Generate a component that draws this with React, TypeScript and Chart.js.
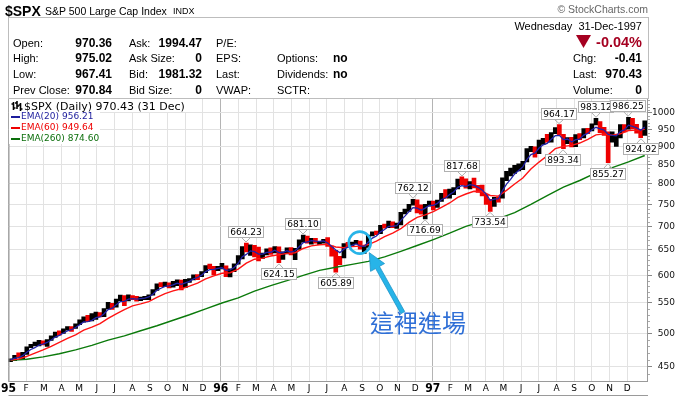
import React, { useEffect, useRef } from "react";
import { Chart, registerables } from "chart.js";
Chart.register(...registerables);

// ---------- data ----------
const monthLabels = ["95","F","M","A","M","J","J","A","S","O","N","D","96","F","M","A","M","J","J","A","S","O","N","D","97","F","M","A","M","J","J","A","S","O","N","D"];
const yTickValues = [450, 500, 550, 600, 650, 700, 750, 800, 850, 900, 950, 1000];

// weekly closes, Jan 1995 - Dec 1997
const closes = [
  460.68, 465.97, 464.78, 470.39, 478.65, 481.46, 481.97, 488.11, 485.42, 489.57,
  495.52, 500.97, 500.71, 506.42, 509.23, 508.49, 514.71, 520.12, 525.55, 519.19,
  523.65, 532.51, 527.94, 539.83, 549.71, 544.75, 556.37, 560.89, 553.54, 562.93,
  558.94, 555.11, 559.21, 560.10, 563.84, 572.68, 583.35, 581.73, 584.41, 582.49,
  584.50, 590.65, 579.70, 590.57, 592.72, 600.07, 599.97, 606.98, 617.48, 616.34,
  611.95, 615.93,
  616.71, 601.81, 611.83, 621.62, 635.84, 656.37, 647.98, 659.08, 644.37, 633.50,
  641.43, 650.62, 645.50, 655.86, 636.71, 645.07, 653.46, 641.63, 652.09, 668.91,
  678.51, 669.12, 673.31, 665.85, 666.84, 670.63, 657.44, 646.19, 638.73, 635.90,
  662.49, 662.10, 665.21, 667.03, 651.99, 655.68, 680.54, 687.03, 686.19, 701.46,
  700.66, 710.82, 700.92, 703.77, 730.82, 737.62, 748.73, 757.02, 739.60, 728.64,
  748.87, 756.79,
  748.03, 759.50, 776.17, 770.52, 786.16, 789.56, 808.48, 801.77, 790.82, 804.97,
  793.17, 784.10, 773.88, 757.90, 737.65, 766.34, 765.37, 812.97, 824.78, 829.75,
  847.03, 848.28, 858.01, 893.27, 898.70, 887.30, 916.92, 918.75, 915.30, 938.79,
  947.14, 933.54, 900.81, 923.54, 899.47, 929.05, 923.91, 950.51, 945.22, 965.03,
  966.98, 944.16, 941.64, 914.62, 927.51, 928.35, 963.09, 955.40, 983.79, 953.39,
  946.78, 936.46, 970.43,
];
const highs = [
  461.3, 466.4, 470.4, 470.9, 479.0, 482.9, 486.3, 488.9, 488.3, 490.4,
  496.2, 501.9, 504.0, 507.0, 510.5, 510.6, 515.0, 521.5, 526.5, 529.0,
  531.8, 534.6, 533.5, 540.5, 551.0, 549.5, 556.8, 563.8, 563.0, 564.5,
  563.0, 561.5, 560.5, 561.5, 564.5, 573.5, 584.0, 586.3, 587.5, 586.0,
  589.0, 591.5, 590.9, 592.3, 594.0, 601.0, 601.5, 607.1, 618.5, 621.7,
  617.0, 617.0,
  623.0, 618.0, 612.5, 622.0, 638.5, 657.0, 664.23, 660.5, 659.5, 656.0,
  643.5, 652.0, 654.0, 657.0, 656.5, 646.0, 654.0, 654.5, 653.0, 671.0,
  681.10, 679.0, 674.0, 674.0, 667.5, 672.0, 675.9, 658.0, 649.0, 637.0,
  663.0, 665.5, 666.0, 670.0, 668.0, 657.0, 681.0, 688.0, 689.5, 702.0,
  705.0, 711.5, 710.0, 707.0, 731.5, 739.0, 750.0, 762.12, 761.0, 749.0,
  750.0, 758.0,
  758.0, 760.0, 776.5, 786.0, 787.0, 790.5, 812.0, 817.68, 812.5, 806.0,
  814.9, 796.0, 797.0, 774.0, 762.0, 767.0, 768.0, 815.0, 832.0, 841.0,
  848.0, 852.0, 859.0, 894.0, 900.0, 899.0, 918.0, 923.0, 935.0, 940.0,
  955.0, 964.17, 935.0, 925.0, 926.0, 934.0, 937.0, 952.0, 952.5, 966.0,
  983.12, 973.0, 956.0, 942.0, 942.0, 932.0, 964.0, 964.0, 986.25, 983.0,
  965.0, 950.0, 975.02,
];
const lows = [
  457.2, 458.9, 463.5, 461.1, 468.0, 477.8, 480.5, 480.5, 482.1, 479.7,
  488.9, 493.4, 497.0, 500.0, 505.0, 502.9, 507.8, 513.8, 518.0, 518.5,
  520.0, 522.5, 526.5, 526.9, 539.8, 539.0, 543.0, 554.0, 545.5, 553.5,
  556.0, 553.0, 553.9, 556.0, 555.6, 563.8, 572.0, 579.0, 579.0, 576.5,
  578.0, 581.0, 573.0, 577.0, 587.0, 591.5, 592.0, 597.5, 605.0, 612.5,
  600.8, 609.0,
  612.0, 597.3, 597.0, 607.0, 621.5, 632.0, 646.0, 639.0, 636.0, 627.6,
  633.0, 640.0, 641.0, 644.0, 624.15, 631.0, 642.0, 640.0, 630.5, 651.0,
  666.0, 664.0, 662.0, 664.0, 661.0, 664.0, 657.0, 637.5, 605.89, 620.5,
  634.0, 656.5, 658.0, 663.0, 651.5, 643.0, 655.0, 679.0, 682.0, 684.0,
  696.0, 697.0, 697.0, 695.5, 703.0, 728.0, 733.5, 748.0, 730.0, 727.0,
  716.69, 745.5,
  737.0, 743.0, 757.0, 765.0, 765.0, 773.0, 787.5, 798.0, 789.0, 787.5,
  790.0, 779.0, 770.0, 750.0, 733.54, 745.0, 755.0, 765.0, 808.0, 820.0,
  827.0, 833.0, 836.5, 857.0, 885.0, 870.0, 880.0, 906.0, 912.0, 912.0,
  937.0, 932.0, 893.34, 908.0, 898.5, 899.0, 919.0, 924.0, 937.0, 945.0,
  963.0, 940.0, 932.0, 855.27, 912.0, 900.0, 924.0, 942.0, 950.0, 951.0,
  938.0, 924.92, 932.0,
];
// EMA(20), one value per week
const ema20 = [
  460.0, 462.4, 463.3, 466.1, 471.1, 475.2, 477.9, 481.9, 483.3, 485.8,
  489.6, 494.1, 496.7, 500.5, 503.9, 505.7, 509.2, 513.5, 518.3, 518.7,
  520.7, 525.3, 526.3, 531.6, 538.7, 541.1, 547.1, 552.5, 552.9, 556.8,
  557.6, 556.6, 557.6, 558.6, 560.6, 565.4, 572.5, 576.1, 579.4, 580.6,
  582.1, 585.5, 583.2, 586.1, 588.7, 593.2, 595.9, 600.3, 607.1, 610.7,
  611.2, 613.1, 614.5, 609.5, 610.4, 614.8, 623.1, 636.2, 640.8, 648.0,
  646.5, 641.4, 641.4, 645.0, 645.2, 649.4, 644.4, 644.7, 648.2, 645.6,
  648.2, 656.4, 665.1, 666.7, 669.3, 668.0, 667.5, 668.7, 664.2, 657.1,
  649.9, 644.4, 651.5, 655.7, 659.4, 662.4, 658.3, 657.3, 666.4, 674.5,
  679.1, 687.9, 692.9, 700.0, 700.4, 701.7, 713.2, 722.8, 733.0, 742.5,
  741.4, 736.4, 741.3, 747.4, 747.6, 752.3, 761.7, 765.2, 773.5, 779.8,
  791.1, 795.3, 793.5, 798.0, 796.1, 791.4, 784.5, 774.0, 759.7, 762.3,
  763.5, 783.0, 799.5, 811.4, 825.4, 834.4, 843.7, 863.2, 877.2, 881.2,
  895.3, 904.6, 908.8, 920.6, 931.0, 932.0, 919.7, 921.2, 912.7, 919.2,
  921.0, 932.6, 937.6, 948.4, 955.7, 951.2, 947.4, 934.5, 931.7, 930.4,
  943.3, 948.1, 962.2, 958.7, 954.0, 947.1, 956.21,
];
// EMA(60), one value every 2 weeks
const ema60 = [
  459.5, 461.2, 465.1, 469.8, 474.6, 479.8, 485.8, 492.1, 497.7, 504.9,
  509.7, 515.5, 523.9, 531.6, 538.8, 545.0, 548.5, 552.4, 559.8, 566.5,
  571.4, 575.2, 579.9, 585.6, 593.3, 599.1, 604.0, 604.9, 611.9, 623.3,
  631.2, 633.3, 637.6, 640.0, 642.9, 644.2, 652.9, 658.2, 660.5, 661.4,
  656.0, 654.4, 657.1, 657.7, 661.0, 668.3, 677.5, 685.4, 694.8, 708.7,
  719.8, 725.5, 733.0, 743.1, 753.3, 766.6, 774.9, 781.7, 780.9, 771.3,
  769.7, 783.9, 799.6, 815.0, 838.1, 856.7, 873.9, 893.6, 900.0, 903.0,
  909.6, 920.4, 933.4, 936.1, 932.0, 936.4, 946.2, 947.2, 949.64,
];
// EMA(260), one value every 4 weeks
const ema260 = [
  459.3, 460.8, 464.2, 468.8, 474.6, 481.4, 489.4, 496.0, 504.0, 512.0,
  521.0, 530.0, 540.0, 550.0, 559.0, 571.0, 581.0, 590.0, 600.0, 609.5,
  615.5, 621.0, 627.0, 636.0, 647.0, 659.0, 671.5, 685.0, 700.0, 711.0,
  717.0, 731.0, 750.0, 771.0, 792.0, 808.5, 828.0, 842.0, 857.5, 874.6,
];
// labelled highs / lows
const annotWeek = [58, 66, 72, 80, 99, 102, 111, 118, 135, 136, 144, 147, 152, 155];
const annotValue = [664.23, 624.15, 681.10, 605.89, 762.12, 716.69, 817.68, 733.54, 964.17, 893.34, 983.12, 855.27, 986.25, 924.92];
const annotSide = ["high", "low", "high", "low", "high", "low", "high", "low", "high", "low", "high", "low", "high", "low"];
const entryWeek = 86.4;
const entryPrice = 665;

// ---------- layout constants ----------
const W = 683;
const H = 397;
const WEEKS_PER_MONTH = 52.18 / 12;
const SANS = "'Liberation Sans', Arial, sans-serif";
const VERD = "'DejaVu Sans', Verdana, sans-serif";

const overlayPlugin = {
  id: "overlay",
  afterDatasetsDraw(chart: any) {
    const { ctx, chartArea: a, scales } = chart;
    const xs = scales.x;
    const ys = scales.y;
    ctx.save();
    // minor ticks on the right axis
    ctx.strokeStyle = "#aaa";
    ctx.lineWidth = 1;
    for (let v = 440; v <= 1040; v += 10) {
      if (v % 50 === 0) continue;
      const py = Math.round(ys.getPixelForValue(v)) + 0.5;
      if (py < a.top || py > a.bottom) continue;
      ctx.beginPath();
      ctx.moveTo(a.right, py);
      ctx.lineTo(a.right + 2, py);
      ctx.stroke();
    }
    // frame
    ctx.strokeStyle = "#9a9a9a";
    ctx.strokeRect(a.left + 0.5, a.top + 0.5, a.right - a.left - 1, a.bottom - a.top - 1);
    ctx.beginPath();
    ctx.moveTo(a.left, H - 1.5);
    ctx.lineTo(a.right, H - 1.5);
    ctx.stroke();

    // annotation boxes
    ctx.font = "9px 'DejaVu Sans'";
    ctx.textAlign = "center";
    ctx.textBaseline = "middle";
    annotWeek.forEach((wk, k) => {
      const px = Math.round(xs.getPixelForValue(wk + 0.5));
      const py = ys.getPixelForValue(annotValue[k]);
      const label = annotValue[k].toFixed(2);
      const w = Math.round(ctx.measureText(label).width) + 5;
      const h = 12;
      const up = annotSide[k] === "high";
      const by = up ? Math.round(py - 5 - h) : Math.round(py + 5);
      const bx = Math.round(px - w / 2);
      ctx.strokeStyle = "#b0b0b0";
      ctx.lineWidth = 1;
      ctx.beginPath();
      if (up) {
        ctx.moveTo(px - 4, by + h);
        ctx.lineTo(px, py - 1);
        ctx.lineTo(px + 4, by + h);
      } else {
        ctx.moveTo(px - 4, by);
        ctx.lineTo(px, py + 1);
        ctx.lineTo(px + 4, by);
      }
      ctx.stroke();
      ctx.fillStyle = "#fff";
      ctx.fillRect(bx, by, w, h);
      ctx.strokeRect(bx + 0.5, by + 0.5, w - 1, h - 1);
      ctx.fillStyle = "#000";
      ctx.fillText(label, px, by + h / 2 + 0.5);
    });

    // entry circle and arrow
    const cx = xs.getPixelForValue(entryWeek);
    const cy = ys.getPixelForValue(entryPrice);
    const cyan = "#27b4e8";
    ctx.strokeStyle = cyan;
    ctx.lineWidth = 2.6;
    ctx.beginPath();
    ctx.arc(cx, cy, 11, 0, Math.PI * 2);
    ctx.stroke();
    const tipX = cx + 9.5, tipY = cy + 10;
    const tailX = cx + 43, tailY = cy + 70;
    const len = Math.hypot(tipX - tailX, tipY - tailY);
    const dx = (tipX - tailX) / len, dy = (tipY - tailY) / len;
    const nx = -dy, ny = dx;
    const neckX = tipX - dx * 17, neckY = tipY - dy * 17;
    ctx.beginPath();
    ctx.moveTo(tailX + nx * 2.2, tailY + ny * 2.2);
    ctx.lineTo(neckX + nx * 2.2, neckY + ny * 2.2);
    ctx.lineTo(neckX + nx * 8, neckY + ny * 8);
    ctx.lineTo(tipX, tipY);
    ctx.lineTo(neckX - nx * 8, neckY - ny * 8);
    ctx.lineTo(neckX - nx * 2.2, neckY - ny * 2.2);
    ctx.lineTo(tailX - nx * 2.2, tailY - ny * 2.2);
    ctx.closePath();
    ctx.fillStyle = cyan;
    ctx.fill();
    ctx.strokeStyle = "#1d93c8";
    ctx.lineWidth = 0.8;
    ctx.stroke();
    ctx.restore();
  },
};

type TP = { x: number; y: number; children: any; size?: number; bold?: boolean; color?: string; align?: string; family?: string; lh?: number };
function T({ x, y, children, size = 11, bold = false, color = "#000", align = "left", family = SANS, lh = 14 }: TP) {
  const style: any = {
    position: "absolute",
    top: y - lh / 2,
    lineHeight: lh + "px",
    height: lh,
    fontSize: size,
    fontWeight: bold ? "bold" : "normal",
    color,
    fontFamily: family,
    whiteSpace: "pre",
  };
  if (align === "right") style.right = W - x;
  else style.left = x;
  return <div style={style}>{children}</div>;
}

export default function App() {
  const ref = useRef<HTMLCanvasElement>(null);
  useEffect(() => {
    const barColors = closes.map((c, i) => (i > 0 && c < closes[i - 1] ? "#ee0000" : "#000000"));
    const chart = new Chart(ref.current as HTMLCanvasElement, {
      type: "bar",
      data: {
        datasets: [
          {
            type: "line",
            label: "EMA(20)",
            data: ema20.map((v, i) => ({ x: i + 0.5, y: v })),
            borderColor: "#2222a8",
            borderWidth: 1.3,
            pointRadius: 0,
            tension: 0,
            order: 1,
          } as any,
          {
            type: "line",
            label: "EMA(60)",
            data: ema60.map((v, i) => ({ x: i * 2 + 0.5, y: v })),
            borderColor: "#ff1414",
            borderWidth: 1.4,
            pointRadius: 0,
            tension: 0,
            order: 2,
          },
          {
            type: "line",
            label: "EMA(260)",
            data: ema260.map((v, i) => ({ x: Math.min(i * 4, 156) + 0.5, y: v })),
            borderColor: "#0b7a0b",
            borderWidth: 1.4,
            pointRadius: 0,
            tension: 0,
            order: 3,
          },
          {
            type: "bar",
            label: "$SPX",
            data: lows.map((l, i) => ({ x: i + 0.5, y: [l, highs[i]] })),
            backgroundColor: barColors,
            barThickness: 4,
            order: 4,
          },
        ],
      } as any,
      options: {
        animation: false,
        responsive: false,
        devicePixelRatio: 1,
        layout: { padding: { left: 8, right: 8, top: 98, bottom: 1 } },
        plugins: { legend: { display: false }, tooltip: { enabled: false } },
        scales: {
          x: {
            type: "linear",
            min: 0,
            max: 157.3,
            offset: false,
            afterBuildTicks: (s: any) => {
              s.ticks = monthLabels.map((_, m) => ({ value: m * WEEKS_PER_MONTH }));
            },
            afterFit: (s: any) => {
              s.height = 14;
            },
            ticks: {
              autoSkip: false,
              maxRotation: 0,
              minRotation: 0,
              padding: 1,
              color: "#000",
              callback: (_v: any, i: number) => monthLabels[i],
              font: (c: any) =>
                c.index % 12 === 0
                  ? { family: "'Liberation Sans Narrow', 'DejaVu Sans Condensed', sans-serif", size: 12, weight: "bold", lineHeight: "12px" }
                  : { family: VERD, size: 9, lineHeight: "12px" },
            },
            grid: {
              offset: false,
              drawTicks: false,
              color: (c: any) => (c.index % 12 === 0 ? "#b4b4b4" : "#e2e2e2"),
            },
            border: { display: false },
          },
          y: {
            type: "logarithmic",
            position: "right",
            min: 429,
            max: 1048,
            afterBuildTicks: (s: any) => {
              s.ticks = yTickValues.map((v) => ({ value: v }));
            },
            afterFit: (s: any) => {
              s.width = 27;
            },
            ticks: {
              padding: 0,
              crossAlign: "far",
              color: "#111",
              font: { family: VERD, size: 9 },
              callback: (v: any) => String(v),
            },
            grid: { color: "#e2e2e2", tickColor: "#888", tickLength: 4 },
            border: { display: false },
          },
        },
      } as any,
      plugins: [overlayPlugin],
    });
    return () => chart.destroy();
  }, []);

  const cjk = "'Noto Sans CJK TC', 'Noto Sans CJK SC', sans-serif";
  return (
    <div style={{ position: "absolute", left: 0, top: 0, width: W, height: H, background: "#fff", overflow: "hidden" }}>
      <canvas ref={ref} width={W} height={H} style={{ position: "absolute", left: 0, top: 0, width: W, height: H }} />

      {/* title */}
      <T x={5} y={11} size={14} bold lh={16}>$SPX</T>
      <T x={45} y={11} size={10.5}>S&amp;P 500 Large Cap Index</T>
      <T x={173} y={11} size={9}>INDX</T>
      <T x={648} y={9} size={10.5} color="#666" align="right">© StockCharts.com</T>

      {/* info box */}
      <div style={{ position: "absolute", left: 8, top: 17, width: 641, height: 82, border: "1px solid #bdbdbd", boxSizing: "border-box" }} />
      <T x={642} y={26} align="right">{"Wednesday  31-Dec-1997"}</T>
      <svg style={{ position: "absolute", left: 576, top: 35 }} width={15} height={13}>
        <polygon points="0,0 15,0 7.5,13" fill="#a50021" />
      </svg>
      <T x={642} y={42} size={14.5} bold color="#a50021" align="right" lh={16}>-0.04%</T>

      <T x={13} y={42.7}>Open:</T>
      <T x={112} y={42.7} bold size={12} align="right">970.36</T>
      <T x={129} y={42.7}>Ask:</T>
      <T x={202} y={42.7} bold size={12} align="right">1994.47</T>
      <T x={216} y={42.7}>P/E:</T>

      <T x={13} y={58.3}>High:</T>
      <T x={112} y={58.3} bold size={12} align="right">975.02</T>
      <T x={129} y={58.3}>Ask Size:</T>
      <T x={202} y={58.3} bold size={12} align="right">0</T>
      <T x={216} y={58.3}>EPS:</T>
      <T x={277} y={58.3}>Options:</T>
      <T x={333} y={58.3} bold size={12}>no</T>
      <T x={573} y={58.3}>Chg:</T>
      <T x={642} y={58.3} bold size={12} align="right">-0.41</T>

      <T x={13} y={74}>Low:</T>
      <T x={112} y={74} bold size={12} align="right">967.41</T>
      <T x={129} y={74}>Bid:</T>
      <T x={202} y={74} bold size={12} align="right">1981.32</T>
      <T x={216} y={74}>Last:</T>
      <T x={277} y={74}>Dividends:</T>
      <T x={333} y={74} bold size={12}>no</T>
      <T x={573} y={74}>Last:</T>
      <T x={642} y={74} bold size={12} align="right">970.43</T>

      <T x={13} y={89.5}>Prev Close:</T>
      <T x={112} y={89.5} bold size={12} align="right">970.84</T>
      <T x={129} y={89.5}>Bid Size:</T>
      <T x={202} y={89.5} bold size={12} align="right">0</T>
      <T x={216} y={89.5}>VWAP:</T>
      <T x={277} y={89.5}>SCTR:</T>
      <T x={573} y={89.5}>Volume:</T>
      <T x={642} y={89.5} bold size={12} align="right">0</T>

      {/* in-chart legend */}
      <div style={{ position: "absolute", left: 9, top: 99, width: 181, height: 13, background: "#fff" }} />
      <div style={{ position: "absolute", left: 9, top: 112, width: 91, height: 32, background: "#fff" }} />
      <svg style={{ position: "absolute", left: 11, top: 101 }} width={12} height={11}>
        <path d="M2.5 1V9M0.5 3H2.5M2.5 7H4.5M6 0V8M4 2H6M6 5H8M9.5 2V10M7.5 4H9.5M9.5 8H11.5" stroke="#000" strokeWidth={1.6} fill="none" />
      </svg>
      <T x={24} y={106.5} size={11} family={VERD} lh={13}>$SPX (Daily) 970.43 (31 Dec)</T>
      <div style={{ position: "absolute", left: 11, top: 116, width: 9, height: 2, background: "#1c1c9c" }} />
      <T x={21} y={116.8} size={9} family={VERD} color="#1c1c9c" lh={11}>EMA(20) 956.21</T>
      <div style={{ position: "absolute", left: 11, top: 127, width: 9, height: 2, background: "#ee0000" }} />
      <T x={21} y={127.6} size={9} family={VERD} color="#ee0000" lh={11}>EMA(60) 949.64</T>
      <div style={{ position: "absolute", left: 11, top: 137.5, width: 9, height: 2, background: "#0b6e0b" }} />
      <T x={21} y={138.3} size={9} family={VERD} color="#0b6e0b" lh={11}>EMA(260) 874.60</T>

      {/* annotation text */}
      <div style={{ position: "absolute", left: 370, top: 310, fontSize: 24, lineHeight: "24px", fontFamily: cjk, color: "#2f6fd6", whiteSpace: "nowrap" }}>這裡進場</div>
    </div>
  );
}
